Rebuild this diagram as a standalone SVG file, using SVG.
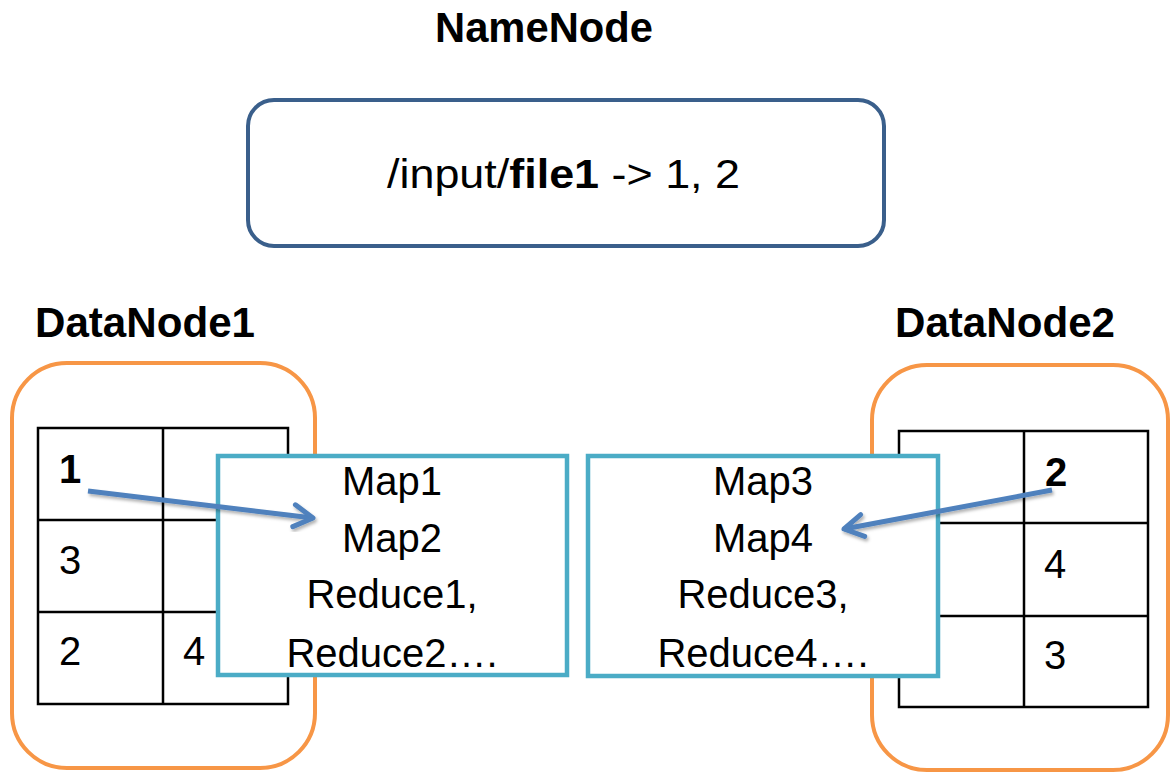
<svg xmlns="http://www.w3.org/2000/svg" width="1172" height="774" viewBox="0 0 1172 774">
  <style>
    .title { font-family: "Liberation Sans", Arial, sans-serif; font-weight: bold; font-size: 42px; fill: #000; }
    .txt { font-family: "Liberation Sans", Arial, sans-serif; font-size: 40px; fill: #000; stroke: none; }
    .digit { font-family: "Liberation Sans", Arial, sans-serif; font-size: 40px; fill: #000; text-anchor: middle; }
    .b { font-weight: bold; }
    .namebox { fill: #fff; stroke: #3a5f8b; stroke-width: 4; }
    .dnbox { fill: #fff; stroke: #f79646; stroke-width: 4; }
    .tbl { fill: none; stroke: #000; stroke-width: 2.5; }
    .task { fill: #fff; stroke: #4bacc6; stroke-width: 4.5; }
    .mid { text-anchor: middle; }
    .conn { fill: none; stroke: #4f81bd; stroke-width: 5; marker-end: url(#head); filter: url(#shadow); }
  </style>
  <defs>
    <marker id="head" markerUnits="userSpaceOnUse" markerWidth="30" markerHeight="30" refX="22" refY="15" orient="auto" overflow="visible">
      <path d="M3,4 L22,15 L3,26" fill="none" stroke="#4f81bd" stroke-width="5" stroke-linecap="round" stroke-linejoin="round"/>
    </marker>
    <filter id="shadow" x="-10%" y="-50%" width="120%" height="200%">
      <feDropShadow dx="1.5" dy="2.5" stdDeviation="1.5" flood-color="#000" flood-opacity="0.3"/>
    </filter>
  </defs>

  <g id="namenode">
    <text class="title" x="544" y="42" text-anchor="middle" textLength="218" lengthAdjust="spacingAndGlyphs">NameNode</text>
    <rect class="namebox" x="248" y="100" width="636" height="146" rx="26" ry="26"/>
    <text class="txt" x="387" y="188" font-size="38" textLength="353" lengthAdjust="spacingAndGlyphs">/input/<tspan class="b">file1</tspan> -&gt; 1, 2</text>
  </g>

  <g id="datanode1">
    <text class="title" x="35" y="337" textLength="220" lengthAdjust="spacingAndGlyphs">DataNode1</text>
    <rect class="dnbox" x="12" y="363" width="303" height="405" rx="55" ry="55"/>
    <g id="table1">
      <rect class="tbl" x="38" y="428" width="250" height="276"/>
      <line class="tbl" x1="163" y1="428" x2="163" y2="704"/>
      <line class="tbl" x1="38" y1="520" x2="288" y2="520"/>
      <line class="tbl" x1="38" y1="612" x2="288" y2="612"/>
      <text class="digit b" x="70" y="483">1</text>
      <text class="digit" x="70" y="574">3</text>
      <text class="digit" x="70" y="665">2</text>
      <text class="digit" x="194" y="665">4</text>
    </g>
  </g>

  <g id="datanode2">
    <text class="title" x="895" y="337" textLength="220" lengthAdjust="spacingAndGlyphs">DataNode2</text>
    <rect class="dnbox" x="872" y="365" width="296" height="405" rx="55" ry="55"/>
    <g id="table2">
      <rect class="tbl" x="899" y="431" width="249" height="276"/>
      <line class="tbl" x1="1024" y1="431" x2="1024" y2="707"/>
      <line class="tbl" x1="899" y1="523" x2="1148" y2="523"/>
      <line class="tbl" x1="899" y1="616" x2="1148" y2="616"/>
      <text class="digit b" x="1056" y="486">2</text>
      <text class="digit" x="1055" y="578">4</text>
      <text class="digit" x="1055" y="669">3</text>
    </g>
  </g>

  <g id="tasks1">
    <rect class="task" x="218" y="456" width="349" height="219"/>
    <text class="txt mid" x="392" y="495">Map1</text>
    <text class="txt mid" x="392" y="552">Map2</text>
    <text class="txt mid" x="392" y="608">Reduce1,</text>
    <text class="txt mid" x="392" y="667">Reduce2….</text>
  </g>

  <g id="tasks2">
    <rect class="task" x="588" y="456" width="350" height="220"/>
    <text class="txt mid" x="763" y="495">Map3</text>
    <text class="txt mid" x="763" y="552">Map4</text>
    <text class="txt mid" x="763" y="608">Reduce3,</text>
    <text class="txt mid" x="763" y="667">Reduce4….</text>
  </g>

  <g id="connectors">
    <path class="conn" d="M88,491 L313,518"/>
    <path class="conn" d="M1052,490 L844,529"/>
  </g>
</svg>
